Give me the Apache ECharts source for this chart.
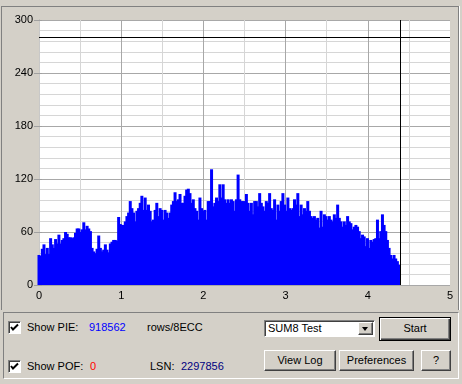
<!DOCTYPE html>
<html><head><meta charset="utf-8">
<script src="https://cdn.jsdelivr.net/npm/echarts@6/dist/echarts.min.js"></script>
<style>
html,body{margin:0;padding:0;background:#d4d0c8;width:462px;height:384px;overflow:hidden;font-family:"Liberation Sans",Arial,sans-serif;font-size:11px;color:#000;}
.abs{position:absolute;}
#frame{left:1px;top:6px;width:456px;height:303px;border-left:1px solid #808080;border-top:1px solid #808080;border-right:1px solid #808080;box-shadow:1px 0 0 #fff;}
#chart{left:0;top:0;width:462px;height:310px;}
#panel{left:3px;top:312px;width:454px;height:65px;border:1px solid;border-color:#808080 #fff #fff #808080;}
.cb{width:13px;height:13px;box-sizing:border-box;background:#fff;border:1px solid;border-color:#808080 #fff #fff #808080;box-shadow:inset 1px 1px #404040;}
.cb svg{position:absolute;left:1px;top:1px;}
.txt{line-height:13px;white-space:nowrap;}
.btn{box-sizing:border-box;background:#d4d0c8;border:1px solid;border-color:#fff #404040 #404040 #fff;box-shadow:inset -1px -1px #808080;text-align:center;}
.def{box-sizing:border-box;background:#d4d0c8;border:1px solid #000;box-shadow:inset 1px 1px #fff,inset -1px -1px #404040,inset -2px -2px #808080;text-align:center;}
#sel{left:264px;top:320px;width:111px;height:17px;box-sizing:border-box;background:#fff;border:1px solid;border-color:#808080 #fff #fff #808080;box-shadow:inset 1px 1px #404040;}
#arrow{left:358px;top:322px;width:15px;height:13px;box-sizing:border-box;background:#d4d0c8;border:1px solid;border-color:#fff #404040 #404040 #fff;box-shadow:inset -1px -1px #808080;}
#arrow i{position:absolute;left:3px;top:4px;width:0;height:0;border-left:3.5px solid transparent;border-right:3.5px solid transparent;border-top:4px solid #000;}
</style></head>
<body>
<div id="frame" class="abs"></div>
<div id="chart" class="abs"></div>
<div id="panel" class="abs"></div>

<div class="abs cb" style="left:8px;top:321px;"><svg width="9" height="9"><polyline points="1,4 3,6.5 8,1.5" fill="none" stroke="#000" stroke-width="2"/></svg></div>
<div class="abs txt" style="left:27px;top:321px;">Show PIE:</div>
<div class="abs txt" style="left:89px;top:321px;color:#0000ff;">918562</div>
<div class="abs txt" style="left:147px;top:321px;">rows/8ECC</div>

<div class="abs cb" style="left:8px;top:360px;"><svg width="9" height="9"><polyline points="1,4 3,6.5 8,1.5" fill="none" stroke="#000" stroke-width="2"/></svg></div>
<div class="abs txt" style="left:27px;top:360px;">Show POF:</div>
<div class="abs txt" style="left:90px;top:360px;color:#ff0000;">0</div>
<div class="abs txt" style="left:150px;top:360px;">LSN:</div>
<div class="abs txt" style="left:181px;top:360px;color:#000080;">2297856</div>

<div id="sel" class="abs"><span class="abs txt" style="left:3px;top:1px;">SUM8 Test</span></div>
<div id="arrow" class="abs"><i></i></div>
<div class="abs def txt" style="left:379px;top:317px;width:72px;height:24px;line-height:21px;">Start</div>
<div class="abs btn txt" style="left:264px;top:350px;width:72px;height:21px;line-height:18px;">View Log</div>
<div class="abs btn txt" style="left:339px;top:350px;width:75px;height:21px;line-height:18px;">Preferences</div>
<div class="abs btn txt" style="left:421px;top:350px;width:30px;height:21px;line-height:18px;">?</div>

<script>
// ---- data ----
const xTickLabels = [0, 1, 2, 3, 4, 5];
const yTickLabels = [0, 60, 120, 180, 240, 300];
const pieValues = [
  34,33,41,46,35,42,35,53,46,42,52,47,57,47,51,53,60,58,54,54,53,54,59,64,64,60,63,71,63,67,64,61,42,38,36,41,56,42,38,40,46,40,37,47,49,51,51,50,
  77,69,68,68,72,78,82,95,87,82,72,84,87,93,101,85,99,85,91,84,72,74,85,93,78,87,85,74,85,82,76,82,91,95,105,95,97,103,93,93,101,108,109,104,93,97,87,84,74,99,87,84,85,74,95,95,131,89,93,99,95,114,99,114,97,93,97,
  93,97,95,84,97,125,97,95,95,95,103,93,84,93,80,95,95,89,104,93,89,84,95,93,104,87,85,97,74,91,84,95,104,91,84,99,87,85,87,97,91,104,78,91,80,87,84,95,84,78,76,78,74,76,65,84,66,80,78,74,78,74,72,80,76,91,76,72,66,72,68,78,72,70,63,66,68,66,61,53,57,55,44,53,42,51,49,52,53,74,53,61,80,68,61,51,42,34,30,34,30,27,23
];
const lastSamplePosition = 4.38;   // position of the final sample (x units)
const limitValue = 280;            // horizontal limit line
const endPosition = 4.40;          // vertical end marker

const step = lastSamplePosition / (pieValues.length - 1);
const seriesData = pieValues.map((v, i) => [i * step, v]);

const chart = echarts.init(document.getElementById('chart'), null, {renderer: 'canvas'});
const font = {fontFamily: '"Liberation Sans", Arial, sans-serif', fontSize: 11, color: '#000'};
const xMin = xTickLabels[0], xMax = xTickLabels[xTickLabels.length - 1];
const yMin = yTickLabels[0], yMax = yTickLabels[yTickLabels.length - 1];

chart.setOption({
  animation: false,
  grid: {left: 39, top: 20, width: 411, height: 265, show: true, backgroundColor: '#ffffff', borderWidth: 0},
  xAxis: [
    {type: 'value', min: xMin, max: xMax, interval: 1, axisLine: {show: false}, axisTick: {show: false},
     axisLabel: Object.assign({margin: 5, showMinLabel: true, showMaxLabel: true}, font), splitLine: {show: false}},
    {type: 'value', min: xMin, max: xMax, interval: 0.5, position: 'bottom', axisLine: {show: false}, axisTick: {show: false},
     axisLabel: {show: false}, splitLine: {show: true, showMaxLine: false, lineStyle: {color: ['#a8a8a8', '#d6d6d6'], width: 1}}}
  ],
  yAxis: [
    {type: 'value', min: yMin, max: yMax, interval: 60, position: 'left',
     axisLine: {show: true, lineStyle: {color: '#a0a0a0'}}, axisTick: {show: true, length: 5, lineStyle: {color: '#a0a0a0'}},
     axisLabel: Object.assign({margin: 6, showMinLabel: true, showMaxLabel: true}, font), splitLine: {show: false}},
    {type: 'value', min: yMin, max: yMax, interval: 60, position: 'right',
     axisLine: {show: true, lineStyle: {color: '#c8c8c8'}}, axisTick: {show: true, length: 3, lineStyle: {color: '#a0a0a0'}},
     axisLabel: {show: false}, splitLine: {show: false}},
    {type: 'value', min: yMin, max: yMax, interval: 12, position: 'left',
     axisLine: {show: false}, axisTick: {show: false}, axisLabel: {show: false},
     splitLine: {show: true, lineStyle: {color: ['#a8a8a8', '#d6d6d6', '#d6d6d6', '#d6d6d6', '#d6d6d6'], width: 1}}}
  ],
  series: [{
    type: 'bar', xAxisIndex: 0, yAxisIndex: 0, data: seriesData, barWidth: 3,
    itemStyle: {color: '#0000ff'}, silent: true,
    markLine: {
      silent: true, symbol: 'none', label: {show: false},
      lineStyle: {color: '#000000', width: 1, type: 'solid'},
      data: [{yAxis: limitValue}, {xAxis: endPosition}]
    }
  }]
});
</script>
</body></html>
